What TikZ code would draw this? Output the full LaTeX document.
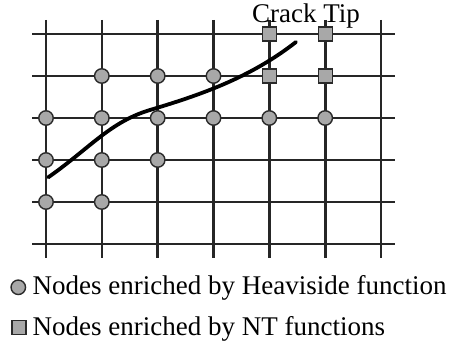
\documentclass[tikz,border=0pt]{standalone}
\usepackage{fontspec}
\setmainfont{Liberation Serif}
\definecolor{nodefill}{HTML}{A8A8A8}
\definecolor{nodeedge}{HTML}{2A2A2A}
\begin{document}
\begin{tikzpicture}[x=1pt,y=-1pt,
  gridline/.style={line width=2.6pt,black!85},
  hnode/.style={circle,draw=nodeedge,fill=nodefill,line width=1.4pt,minimum size=14.5pt,inner sep=0pt},
  tnode/.style={rectangle,draw=nodeedge,fill=nodefill,line width=1.4pt,minimum size=14pt,inner sep=0pt},
  crack/.style={line width=3.8pt,black,line cap=round},
  label/.style={inner sep=0pt,anchor=base west,font=\fontsize{27}{30}\selectfont}]
\useasboundingbox (0,0) rectangle (451,344);
% mesh lines
\foreach \y in {34,76,118,160,202,244}
  \draw[gridline] (32.3,\y) -- (395,\y);
\foreach \x in {46,101.8,157.7,213.5,269.3,381}
  \draw[gridline] (\x,20) -- (\x,258);
\draw[gridline,line width=3.2pt] (325.2,20) -- (325.2,258);
% crack path
\draw[crack] (48.3,177.3) .. controls (90,148) and (110,122) .. (150,110)
  .. controls (200,95) and (250,78) .. (296,42);
% Heaviside-enriched nodes
\node[hnode] (h1) at (101.8,76) {};
\node[hnode] (h2) at (157.7,76) {};
\node[hnode] (h3) at (213.5,76) {};
\node[hnode] (h4) at (46,118) {};
\node[hnode] (h5) at (101.8,118) {};
\node[hnode] (h6) at (157.7,118) {};
\node[hnode] (h7) at (213.5,118) {};
\node[hnode] (h8) at (269.3,118) {};
\node[hnode] (h9) at (325.2,118) {};
\node[hnode] (h10) at (46,160) {};
\node[hnode] (h11) at (101.8,160) {};
\node[hnode] (h12) at (157.7,160) {};
\node[hnode] (h13) at (46,202) {};
\node[hnode] (h14) at (101.8,202) {};
% crack-tip enriched nodes
\node[tnode] (t1) at (269.3,34) {};
\node[tnode] (t2) at (325.2,34) {};
\node[tnode] (t3) at (269.3,76) {};
\node[tnode] (t4) at (325.2,76) {};
\node[label] (tip) at (252,22.5) {Crack Tip};
% legend
\node[hnode] (lh) at (18.3,287.3) {};
\node[label] (lht) at (32.5,295) {Nodes enriched by Heaviside function};
\node[tnode] (lt) at (19,327.5) {};
\node[label] (ltt) at (32.5,336) {Nodes enriched by NT functions};
\end{tikzpicture}
\end{document}
